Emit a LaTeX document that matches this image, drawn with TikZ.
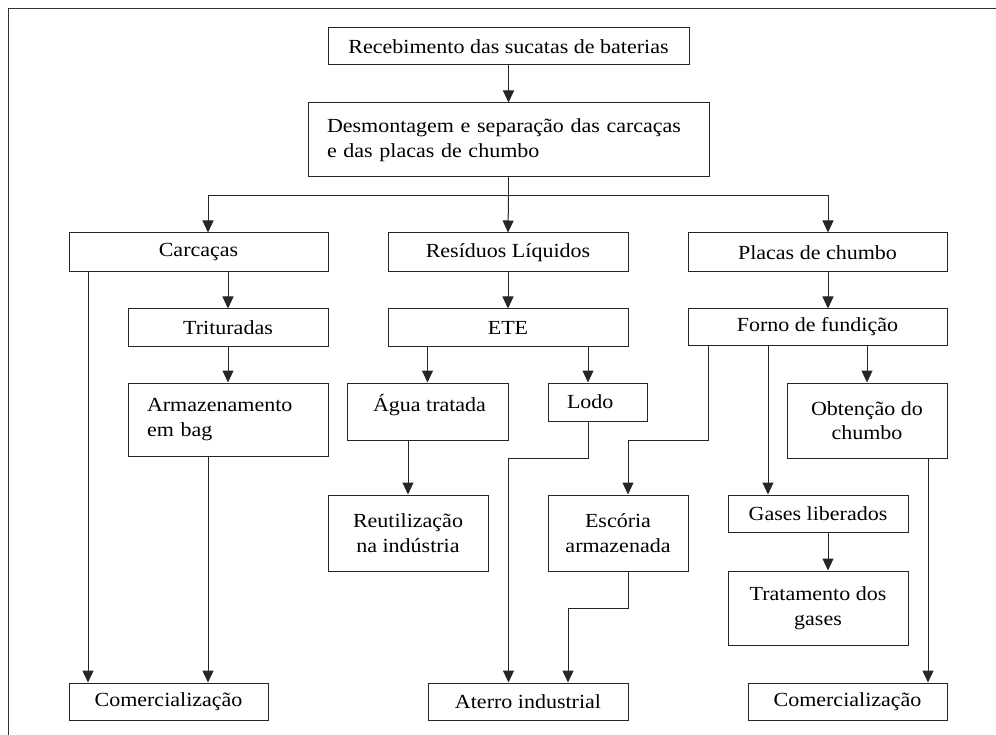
\documentclass[tikz,border=0pt]{standalone}
\usepackage{fontspec}
\setmainfont[FakeStretch=1.1]{Liberation Serif}
\usetikzlibrary{arrows.meta}
\newcommand\bx[7][]{\node[box,#1,minimum width={(#5-#3)*1pt},minimum height={(#6-#4)*1pt}] (#2) at ({(#3+#5)/2},{(#4+#6)/2}) {#7};}
\begin{document}
\begin{tikzpicture}[x=1pt,y=-1pt,
  box/.style={draw=black!85, line width=1pt, inner sep=0pt, align=center,
    font=\fontsize{20pt}{24.5pt}\selectfont, text=black},
  txt/.style={inner sep=0pt, font=\fontsize{20pt}{24.5pt}\selectfont, text=black},
  arr/.style={draw=black!85, line width=1pt, -{Triangle[length=12pt,width=11pt]}},
  ln/.style={draw=black!85, line width=1pt}]
\useasboundingbox (0,0) rectangle (996,735);
\draw[line width=1pt, black!80] (8,735) -- (8,9) -- (996,9);

% boxes
\bx{rec}{328}{28}{689}{65}{Recebimento das sucatas de baterias}
\bx[align=left, text width=363pt, inner xsep=19pt]{des}{308}{103}{709}{177}{Desmontagem e separação das carcaças\\e das placas de chumbo}
\bx{car}{69}{233}{328}{272}{Carcaças}
\bx{res}{388}{233}{628}{272}{Resíduos Líquidos}
\bx{pla}{688}{233}{947}{272}{Placas de chumbo}
\bx{tri}{128}{309}{328}{346}{Trituradas}
\bx{ete}{388}{309}{628}{346}{ETE}
\bx{forno}{688}{309}{947}{345}{Forno de fundição}
\bx[align=left, text width=162pt, inner xsep=19pt]{arm}{128}{383}{328}{456}{Armazenamento\\em bag}
\bx{agua}{347}{383}{508}{440}{}
\node[txt] (aguat) at (429.5,405) {Água tratada};
\bx[align=left, text width=61pt, inner xsep=19pt]{lodo}{548}{383}{647}{421}{Lodo}
\bx{obt}{787}{383}{947}{458}{Obtenção do\\chumbo}
\bx{reu}{328}{495}{488}{571}{Reutilização\\na indústria}
\bx{esc}{548}{495}{688}{571}{Escória\\armazenada}
\bx{gas}{728}{495}{908}{532}{Gases liberados}
\bx{tra}{728}{571}{908}{645}{Tratamento dos\\gases}
\bx{com1}{69}{683}{268}{720}{Comercialização}
\bx{ate}{428}{683}{628}{720}{Aterro industrial}
\bx{com2}{748}{683}{947}{720}{Comercialização}

% helper coordinates
\coordinate (x88) at (88,0);
\coordinate (x208) at (208,0);
\coordinate (x508) at (508.5,0);
\coordinate (x568) at (568,0);
\coordinate (x588) at (588,0);
\coordinate (x628) at (628,0);
\coordinate (x708) at (708,0);
\coordinate (x768) at (768,0);
\coordinate (x828) at (828,0);
\coordinate (x928) at (928,0);
\coordinate (yb0) at (0,196);
\coordinate (yb1) at (0,458);
\coordinate (yb2) at (0,440);
\coordinate (yb3) at (0,608);

% connectors
\draw[arr] (rec) -- (des);
\draw[ln] (des.south) -- (x508 |- yb0);
\draw[arr] (x508 |- yb0) -| (car.north -| x208);
\draw[arr] (x508 |- yb0) -| (pla.north -| x828);
\draw[arr] (x508 |- yb0) -- (res.north);
\draw[arr] (car.south -| tri.north) -- (tri.north);
\draw[arr] (tri) -- (arm);
\draw[arr] (car.south -| x88) -- (com1.north -| x88);
\draw[arr] (arm.south -| x208) -- (com1.north -| x208);
\draw[arr] (res) -- (ete);
\draw[arr] (ete.south -| agua.north) -- (agua.north);
\draw[arr] (ete.south -| x588) -- (lodo.north -| x588);
\draw[arr] (agua.south -| reu.north) -- (reu.north);
\draw[arr] (lodo.south -| x588) |- (x508 |- yb1) -- (ate.north -| x508);
\draw[arr] (pla.south -| x828) -- (forno.north -| x828);
\draw[arr] (forno.south -| x708) |- (x628 |- yb2) -- (esc.north -| x628);
\draw[arr] (esc.south -| x628) |- (x568 |- yb3) -- (ate.north -| x568);
\draw[arr] (forno.south -| x768) -- (gas.north -| x768);
\draw[arr] (gas.south -| x828) -- (tra.north -| x828);
\draw[arr] (forno.south -| obt.north) -- (obt.north);
\draw[arr] (obt.south -| x928) -- (com2.north -| x928);
\end{tikzpicture}
\end{document}
